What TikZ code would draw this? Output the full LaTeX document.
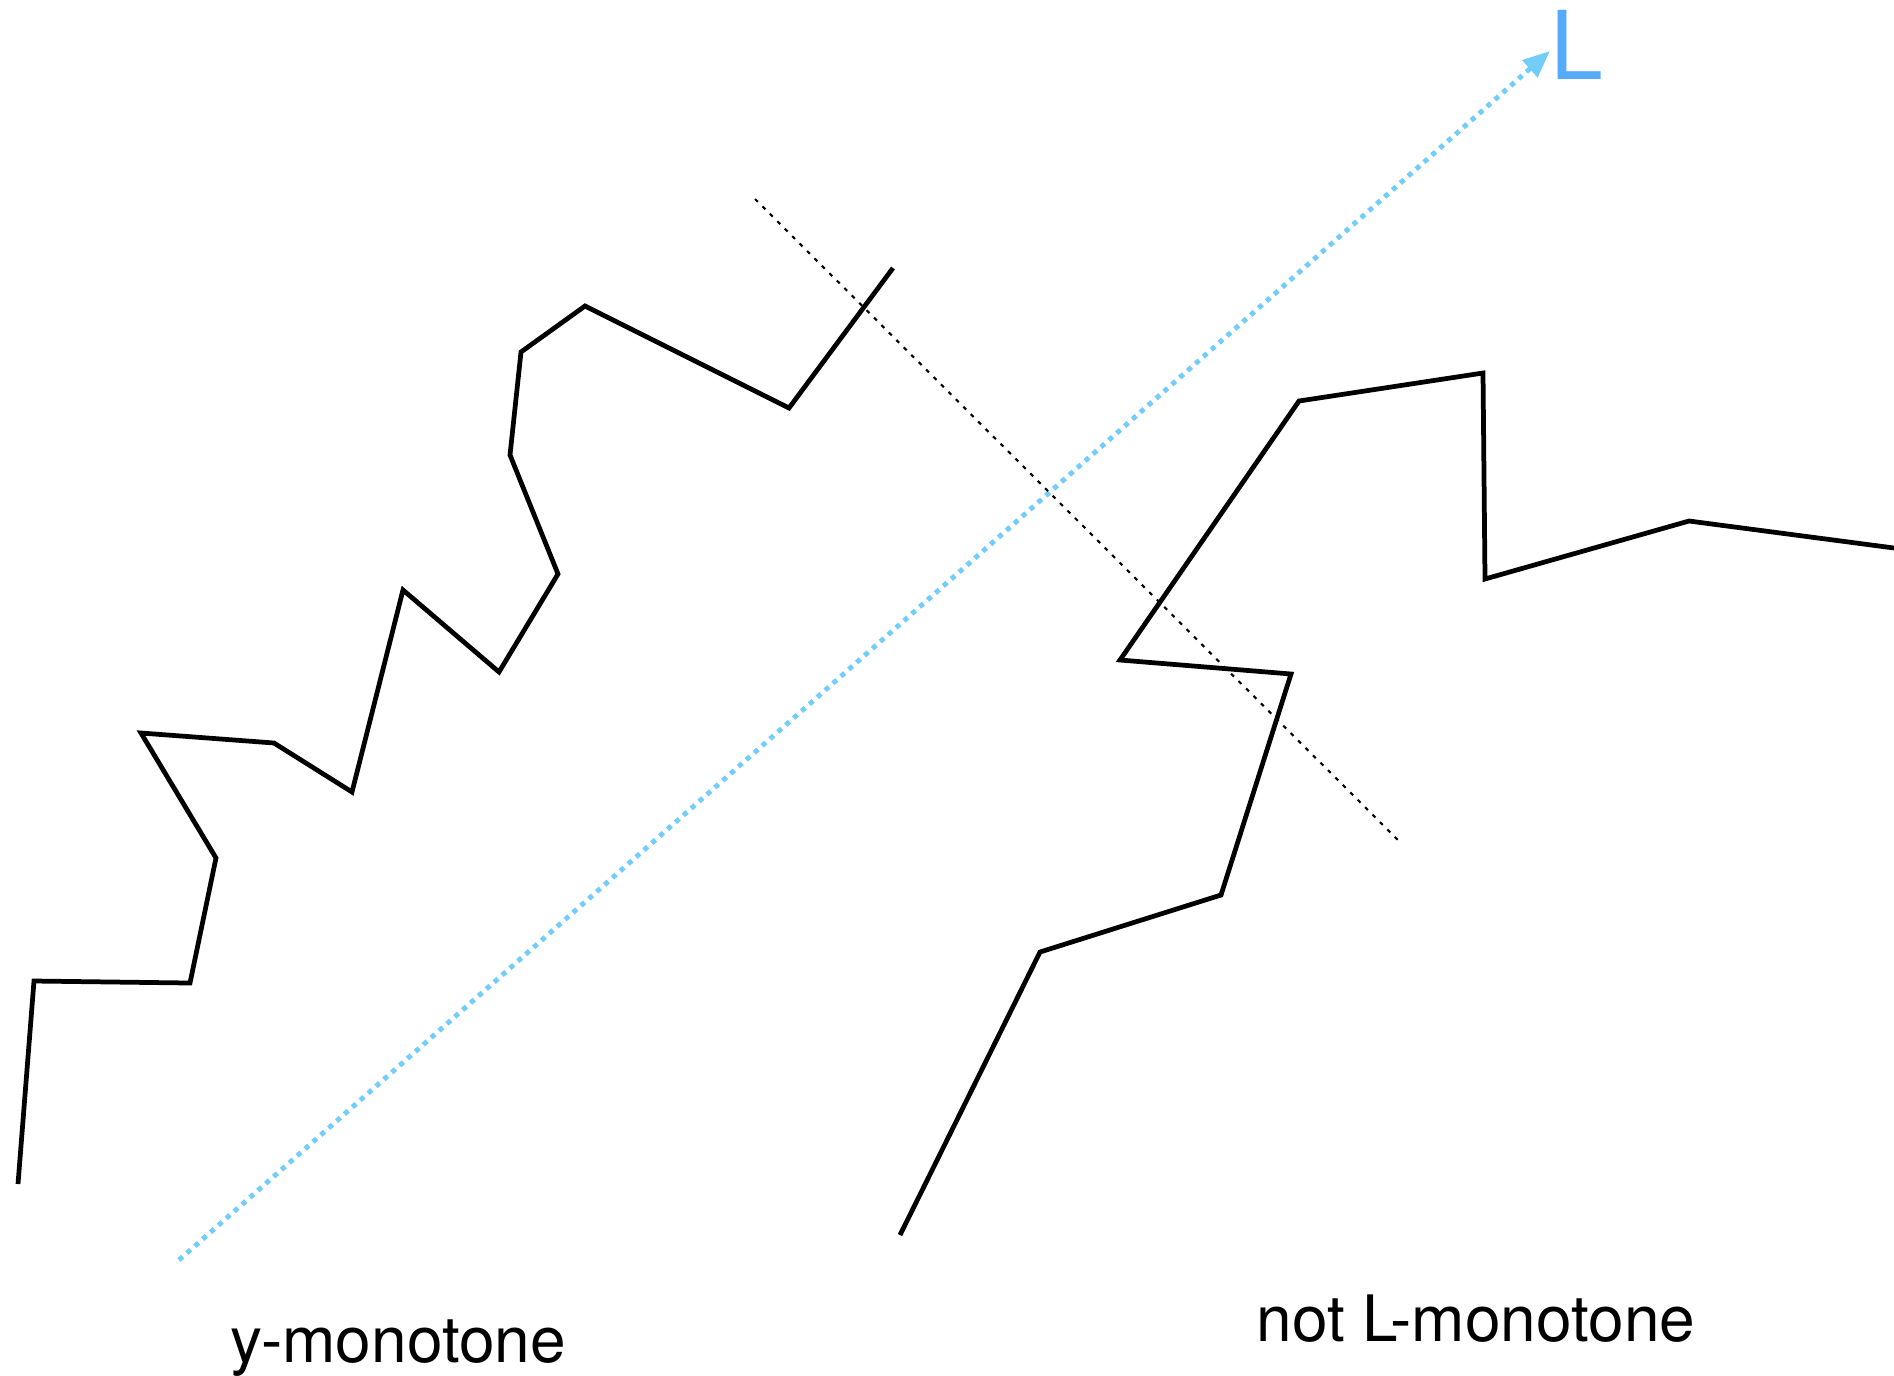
\documentclass[tikz,border=0pt]{standalone}
\usepackage{fontspec}
\setmainfont{TeX Gyre Heros}
\usetikzlibrary{arrows.meta}
\definecolor{axisblue}{RGB}{115,205,250}
\definecolor{labelblue}{RGB}{85,170,250}
\tikzset{
    % --- Polygonal chain ---
    chain/.style = {
        draw=black, line width=1.35pt, line join=miter
    },
    % --- Perpendicular helper line ---
    perp/.style = {
        draw=black, line width=0.6pt,
        dash pattern=on 0.04cm off 0.065cm
    },
    % --- Direction line L ---
    direction/.style = {
        draw=axisblue, line width=1.4pt,
        dash pattern=on 0.05cm off 0.055cm,
        -{Triangle[length=0.27cm,width=0.22cm,fill=axisblue]}
    },
    % --- Caption text ---
    caption/.style = {
        font=\fontsize{18.2}{20}\selectfont, anchor=base, inner sep=0pt
    }
}

\begin{document}
\begin{tikzpicture}[x={(0.01cm,0)}, y={(0,-0.01cm)}]
\useasboundingbox (0,0) rectangle (1894,1375);

% ---------------------------------------------------------
% Direction L
% ---------------------------------------------------------
\coordinate (Lstart) at (179,1260);
\coordinate (Lend)   at (1550,51);
\draw[direction] (Lstart) -- (Lend);
\node[anchor=base west, inner sep=0pt, text=labelblue,
      font=\fontsize{27}{30}\selectfont] (Llabel) at (1550,79) {L};

% ---------------------------------------------------------
% Perpendicular to L
% ---------------------------------------------------------
\coordinate (Ptop) at (755,199);
\coordinate (Pbot) at (1401,843);
\draw[perp] (Ptop) -- (Pbot);

% ---------------------------------------------------------
% Left chain (y-monotone)
% ---------------------------------------------------------
\draw[chain] (18,1184) -- (34,981) -- (190,983) -- (216,858)
    -- (141,733) -- (274,743) -- (352,792) -- (403,590)
    -- (499,672) -- (558,574) -- (510,455) -- (521,352)
    -- (585,306) -- (789,408) -- (893,268);

% ---------------------------------------------------------
% Right chain (not L-monotone)
% ---------------------------------------------------------
\draw[chain] (900,1235) -- (1040,952) -- (1221,895) -- (1291,674)
    -- (1120,660) -- (1299,401) -- (1483,373) -- (1485,579)
    -- (1689,521) -- (1894,548);

% ---------------------------------------------------------
% Captions
% ---------------------------------------------------------
\node[caption] (ymono) at (398,1362) {y-monotone};
\node[caption] (notL)  at (1476,1341) {not L-monotone};

\end{tikzpicture}
\end{document}
